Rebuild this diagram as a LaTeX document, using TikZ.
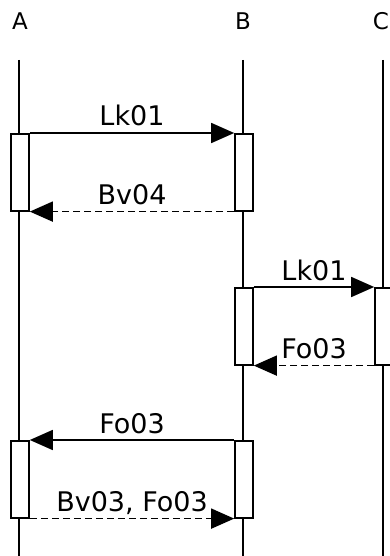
\documentclass[tikz,border=0pt]{standalone}
\usepackage{fontspec}
\setmainfont{DejaVu Sans}
\usetikzlibrary{arrows.meta, positioning}

\begin{document}
\begin{tikzpicture}[
    x=1pt, y=-1pt,
    part/.style={font=\fontsize{23}{27}\selectfont, anchor=base},
    life/.style={line width=1.6pt},
    act/.style={rectangle, draw, fill=white, line width=1.6pt, minimum width=18pt, minimum height=77pt, inner sep=0pt, anchor=north},
    msg/.style={-{Triangle[length=23pt, width=20pt]}, line width=1.6pt},
    ret/.style={msg, dash pattern=on 7pt off 4pt},
    lbl/.style={midway, anchor=base, yshift=7pt, font=\fontsize{27}{32}\selectfont},
]
\useasboundingbox (0,0) rectangle (390,556);
\clip (0,0) rectangle (390,556);

\node[part] (A) at (20,30) {A};
\node[part] (B) at (243,30) {B};
\node[part] (C) at (381,30) {C};

\coordinate (Atop) at (19,60);
\coordinate (Abot) at (19,560);
\coordinate (Btop) at (243,60);
\coordinate (Bbot) at (243,560);
\coordinate (Ctop) at (383,60);
\coordinate (Cbot) at (383,560);
\draw[life] (Atop) -- (Abot);
\draw[life] (Btop) -- (Bbot);
\draw[life] (Ctop) -- (Cbot);

\node[act] (actA1) at (20,133) {};
\node[act] (actB1) at (244,133) {};
\node[act] (actB2) at (244,287) {};
\node[act] (actC2) at (384,287) {};
\node[act] (actA3) at (20,440) {};
\node[act] (actB3) at (244,440) {};

\draw[msg] (actA1.north east) -- (actB1.north west) node[lbl] {Lk01};
\draw[ret] (actB1.south west) -- (actA1.south east) node[lbl] {Bv04};
\draw[msg] (actB2.north east) -- (actC2.north west) node[lbl] {Lk01};
\draw[ret] (actC2.south west) -- (actB2.south east) node[lbl] {Fo03};
\draw[msg] (actB3.north west) -- (actA3.north east) node[lbl] {Fo03};
\draw[ret] (actA3.south east) -- (actB3.south west) node[lbl] {Bv03, Fo03};
\end{tikzpicture}
\end{document}
